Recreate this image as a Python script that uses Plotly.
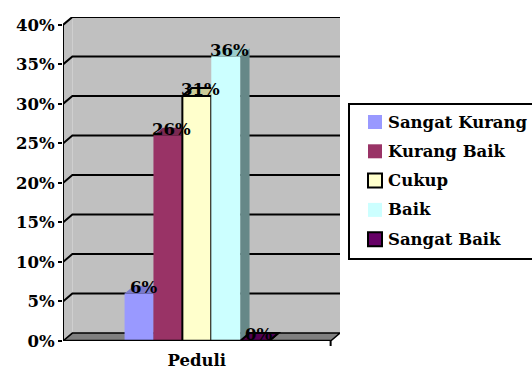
import plotly.graph_objects as go

# Survey results for the "Peduli" item
categories = ["Sangat Kurang", "Kurang Baik", "Cukup", "Baik", "Sangat Baik"]
values = [0.06, 0.26, 0.31, 0.36, 0.00]
group_label = ["Peduli"]
tick_values = [0.00, 0.05, 0.10, 0.15, 0.20, 0.25, 0.30, 0.35, 0.40]

# Styling (front face, top face, side face, outline)
front_colors = ["#9999FF", "#993366", "#FFFFCC", "#CCFFFF", "#660066"]
top_colors = ["#7A7ACC", "#7A2952", "#CCCC99", "#99CCCC", "#520052"]
side_colors = ["#6B6BB3", "#6B2447", "#B3B386", "#668888", "#470047"]
outline = [0, 0, 2, 0, 2]

W, H = 532, 371
L, R, T, B = 63, 340, 17, 341          # plot area in pixels
X0, X1 = -0.5, 0.535                   # x range (category at 0)
Y0, Y1 = 0.0, 0.41                     # y range
DX, DY = 0.035, 0.01                   # depth offset for the 3D look
BARGAP = 0.46
FONT = dict(family="DejaVu Serif", size=16.5, color="black")


def bold(s):
    return f"<b>{s}</b>"


n = len(categories)
group_w = 1 - BARGAP
bar_w = group_w / n
centers = [-group_w / 2 + bar_w * (i + 0.5) for i in range(n)]


def px(xp):
    return (xp - L) / (R - L)


def py(yp):
    return (B - yp) / (B - T)


def poly(pts):
    return "M" + " L".join(f"{x},{y}" for x, y in pts) + " Z"


fig = go.Figure()
for i, (name, v) in enumerate(zip(categories, values)):
    fig.add_trace(go.Bar(
        x=[0], y=[v], name=name,
        marker=dict(color=front_colors[i],
                    line=dict(color="black", width=outline[i])),
        showlegend=False, hoverinfo="name+y",
    ))

shapes = []
# back wall and left wall
shapes.append(dict(type="rect", xref="x", yref="y", x0=X0 + DX, x1=X1,
                   y0=DY, y1=Y1, fillcolor="#C0C0C0", line_width=0,
                   layer="below"))
shapes.append(dict(type="path", xref="x", yref="y",
                   path=poly([(X0, 0), (X0, tick_values[-1]),
                              (X0 + DX, Y1), (X0 + DX, DY)]),
                   fillcolor="#C0C0C0", line_width=0, layer="below"))
# gridlines on the walls
for v in tick_values[1:]:
    shapes.append(dict(type="path", xref="x", yref="y",
                       path=f"M{X0},{v} L{X0 + DX},{v + DY} L{X1},{v + DY}",
                       line=dict(color="black", width=2), layer="below"))
# floor
shapes.append(dict(type="path", xref="x", yref="y",
                   path=poly([(X0, 0), (0.5, 0), (0.5 + DX, DY), (X0 + DX, DY)]),
                   fillcolor="#808080", line=dict(color="black", width=1.5),
                   layer="below"))
# depth faces of each column
for i, v in enumerate(values):
    a, b = centers[i] - bar_w / 2, centers[i] + bar_w / 2
    lw = outline[i]
    shapes.append(dict(type="path", xref="x", yref="y",
                       path=poly([(b, 0), (b, v), (b + DX, v + DY), (b + DX, DY)]),
                       fillcolor=side_colors[i],
                       line=dict(color="black", width=lw), layer="below"))
    shapes.append(dict(type="path", xref="x", yref="y",
                       path=poly([(a, v), (b, v), (b + DX, v + DY), (a + DX, v + DY)]),
                       fillcolor=top_colors[i],
                       line=dict(color="black", width=lw), layer="below"))
# front axis lines
shapes.append(dict(type="line", xref="x", yref="y", x0=X0, x1=X0, y0=0,
                   y1=tick_values[-1], line=dict(color="black", width=2),
                   layer="above"))
shapes.append(dict(type="line", xref="x", yref="y", x0=X0, x1=0.5, y0=0, y1=0,
                   line=dict(color="black", width=2.5), layer="above"))
shapes.append(dict(type="line", xref="x", yref="paper", x0=0.5, x1=0.5,
                   y0=0, y1=py(346), line=dict(color="black", width=2),
                   layer="above"))

annotations = []
for i, v in enumerate(values):
    annotations.append(dict(x=centers[i], y=v, xref="x", yref="y",
                            text=bold(f"{v:.0%}"), showarrow=False,
                            xanchor="center", yanchor="bottom",
                            xshift=4, yshift=-5, font=FONT))

# legend box
shapes.append(dict(type="rect", xref="paper", yref="paper",
                   x0=px(349), x1=px(545), y0=py(259), y1=py(104),
                   line=dict(color="black", width=2), fillcolor="white",
                   layer="above"))
row0, step = 122, 29.3
for i, name in enumerate(categories):
    yc = row0 + i * step
    shapes.append(dict(type="rect", xref="paper", yref="paper",
                       x0=px(368), x1=px(382), y0=py(yc + 7), y1=py(yc - 7),
                       fillcolor=front_colors[i],
                       line=dict(color="black", width=outline[i]),
                       layer="above"))
    annotations.append(dict(x=px(386), y=py(yc), xref="paper", yref="paper",
                            text=bold(name), showarrow=False, xanchor="left",
                            yanchor="middle", font=FONT))

fig.update_layout(
    width=W, height=H,
    margin=dict(l=L, r=W - R, t=T, b=H - B, pad=0),
    paper_bgcolor="white", plot_bgcolor="white",
    barmode="group", bargap=BARGAP, bargroupgap=0,
    shapes=shapes, annotations=annotations,
    showlegend=False,
    font=FONT,
    xaxis=dict(range=[X0, X1], tickvals=[0],
               ticktext=[bold(t) for t in group_label],
               showgrid=False, zeroline=False, showline=False, ticks="",
               ticklabelstandoff=7, automargin=False,
               tickfont=FONT, fixedrange=True),
    yaxis=dict(range=[Y0, Y1], tickvals=tick_values,
               ticktext=[bold(f"{v:.0%}") for v in tick_values],
               showgrid=False, zeroline=False, showline=False,
               ticks="outside", ticklen=4, tickwidth=2, tickcolor="black",
               automargin=False, tickfont=FONT, fixedrange=True),
)

fig.write_html("out.html")
